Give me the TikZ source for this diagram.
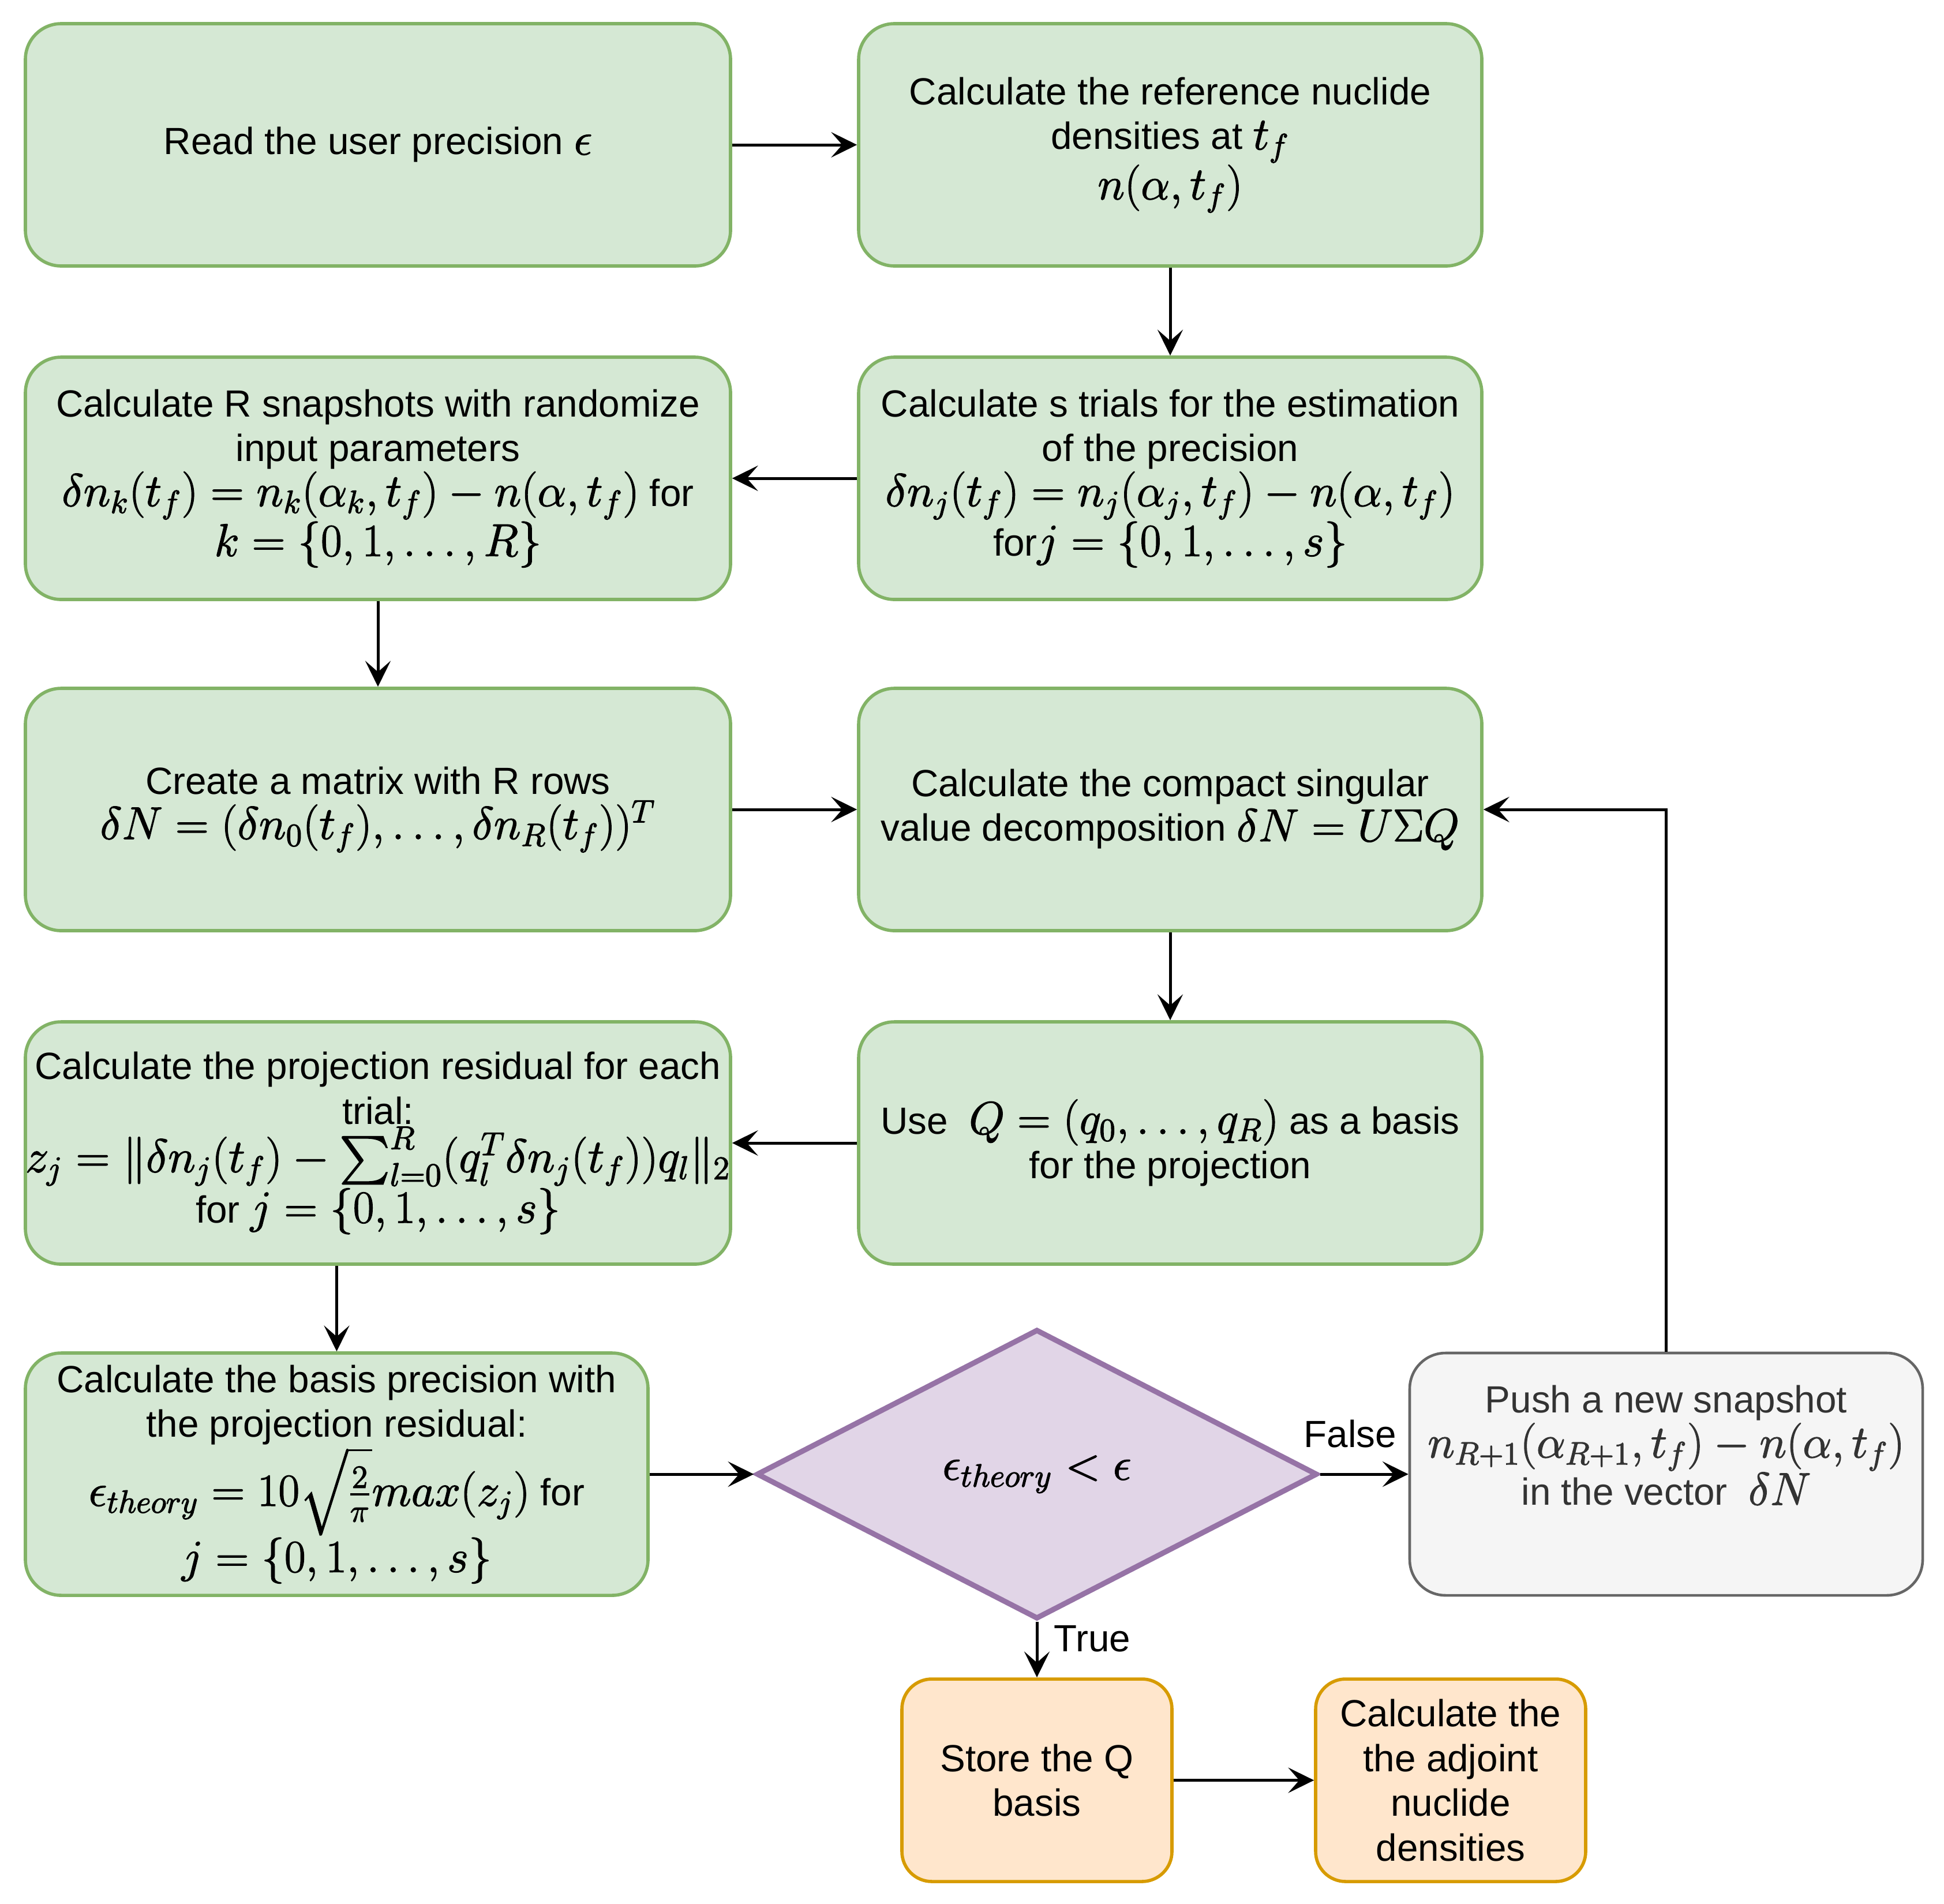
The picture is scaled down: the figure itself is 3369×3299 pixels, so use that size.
\RequirePackage{fix-cm}
\documentclass[tikz,border=0pt]{standalone}
\usepackage[no-math]{fontspec}
\usepackage{exscale}
\setmainfont{Liberation Sans}
\usetikzlibrary{shapes.geometric,arrows.meta}
\definecolor{gfill}{HTML}{D5E8D4}
\definecolor{gstroke}{HTML}{82B366}
\definecolor{ofill}{HTML}{FFE6CC}
\definecolor{ostroke}{HTML}{D79B00}
\definecolor{pfill}{HTML}{E1D5E7}
\definecolor{pstroke}{HTML}{9673A6}
\definecolor{kfill}{HTML}{F5F5F5}
\definecolor{kstroke}{HTML}{666666}
\definecolor{ktext}{HTML}{333333}
\newcommand\mytxt{\fontsize{16.4}{19.4}\selectfont}
\newcommand\m[2][19.9]{{\fontsize{#1}{19.4}\selectfont\special{pdf:literal direct 2 Tr 0.35 w}$#2$\special{pdf:literal direct 0 Tr}}}
\tikzset{
  gbox/.style={draw=gstroke, fill=gfill, line width=1.4pt, rounded corners=15.5pt,
    align=center, inner sep=0pt, font=\mytxt, text=black, minimum height=105pt},
  gleft/.style={gbox, minimum width=305.5pt},
  gright/.style={gbox, minimum width=270pt},
  obox/.style={draw=ostroke, fill=ofill, line width=1.4pt, rounded corners=13pt,
    align=center, inner sep=0pt, font=\mytxt, text=black, minimum height=87.75pt, minimum width=117pt},
  kbox/.style={draw=kstroke, fill=kfill, line width=1.15pt, rounded corners=15.5pt,
    align=center, inner sep=0pt, font=\mytxt, text=ktext, minimum height=105pt, minimum width=222.25pt},
  decision/.style={diamond, draw=pstroke, fill=pfill, line width=2.3pt, inner sep=0pt,
    minimum width=243pt, minimum height=125.5pt, font=\mytxt, text=black},
  arr/.style={draw=black, line width=1.25pt, -{Stealth[length=11.2pt, width=11pt, inset=4.8pt]}},
  lbl/.style={font=\mytxt, text=black, inner sep=0pt},
}
\begin{document}
\begin{tikzpicture}[x=0.25pt, y=-0.25pt]
\useasboundingbox (0,0) rectangle (3369,3299);

\node[gleft]  (b1) at (655,251)  {Read the user precision \m{\epsilon}};
\node[gright] (b2) at (2028,251) {Calculate the reference nuclide\\densities at \m{t_f}\\\m{n(\alpha,t_f)}};
\node[gright] (b3) at (2028,829) {Calculate s trials for the estimation\\of the precision\\\m{\delta n_j(t_f)=n_j(\alpha_j,t_f)-n(\alpha,t_f)}\\for\m{j=\{0,1,\ldots,s\}}};
\node[gleft]  (b4) at (655,829)  {Calculate R snapshots with randomize\\input parameters\\\m{\delta n_k(t_f)=n_k(\alpha_k,t_f)-n(\alpha,t_f)} for\\\m{k=\{0,1,\ldots,R\}}};
\node[gleft]  (b5) at (655,1403) {Create a matrix with R rows\\\m{\delta N=(\delta n_0(t_f),\ldots,\delta n_R(t_f))^T}};
\node[gright] (b6) at (2028,1403) {Calculate the compact singular\\value decomposition \m{\delta N=U\Sigma Q}};
\node[gright] (b7) at (2028,1981) {Use\ \ \m{Q=(q_0,\ldots,q_R)} as a basis\\for the projection};
\node[gleft]  (b8) at (655,1981) {Calculate the projection residual for each\\trial:\\\m[20.3]{z_j=\|\delta n_j(t_f)-\sum_{l=0}^{R}(q_l^T\delta n_j(t_f))q_l\|_2}\\for \m{j=\{0,1,\ldots,s\}}};
\node[gbox, minimum width=269.75pt] (b9) at (583.5,2555) {Calculate the basis precision with\\the projection residual:\\\m{\epsilon_{theory}=10\sqrt{\frac{2}{\pi}}max(z_j)} for\\\m{j=\{0,1,\ldots,s\}}};
\node[decision] (dec) at (1797,2555) {\m{\epsilon_{theory}<\epsilon}};
\node[kbox] (push) at (2887.5,2555) {Push a new snapshot\\\m{n_{R+1}(\alpha_{R+1},t_f)-n(\alpha,t_f)}\\in the vector\ \ \m{\delta N}\\\strut};
\node[obox] (store) at (1797,3085.5) {Store the Q\\basis};
\node[obox] (adj) at (2514,3085.5) {Calculate the\\the adjoint\\nuclide\\densities};

\draw[arr] (b1) -- (b2);
\draw[arr] (b2) -- (b3);
\draw[arr] (b3) -- (b4);
\draw[arr] (b4) -- (b5);
\draw[arr] (b5) -- (b6);
\draw[arr] (b6) -- (b7);
\draw[arr] (b7) -- (b8);
\draw[arr] (b8.south -| b9.north) -- (b9.north);
\draw[arr] (b9) -- (dec);
\draw[arr] (dec) -- (push);
\draw[arr] (dec) -- (store);
\draw[arr] (store) -- (adj);
\draw[arr] (push.north) |- (b6.east);

\node[lbl, anchor=base] (lfalse) at (2340,2508) {False};
\node[lbl, anchor=base] (ltrue) at (1893,2862) {True};
\end{tikzpicture}
\end{document}
